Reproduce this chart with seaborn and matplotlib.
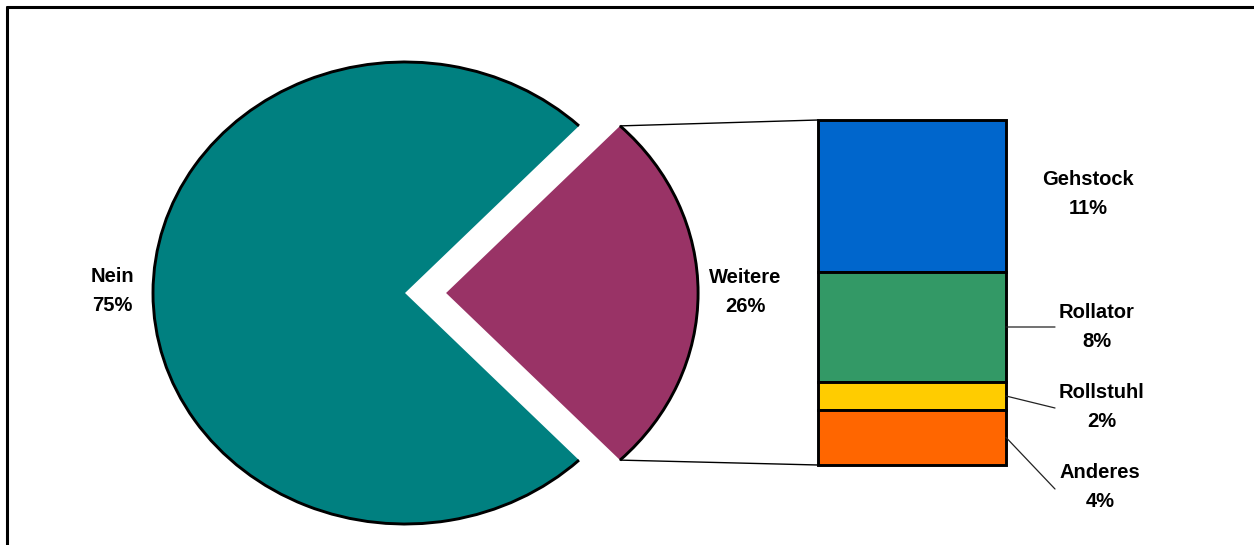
import matplotlib
matplotlib.use("Agg")
import matplotlib.pyplot as plt
from matplotlib.patches import Arc, ConnectionPatch
from matplotlib.lines import Line2D
import numpy as np
import seaborn as sns

# Main split: no walking aid vs. some other aid
pie_labels = ["Nein", "Weitere"]
pie_values = [75, 26]
pie_colors = ["#008080", "#993366"]

# Breakdown of "Weitere"
detail_labels = ["Gehstock", "Rollator", "Rollstuhl", "Anderes"]
detail_values = [11, 8, 2, 4]
detail_colors = ["#0066CC", "#339966", "#FFCC00", "#FF6600"]

sns.set_theme(style="white")
plt.rcParams["font.family"] = ["Liberation Sans", "DejaVu Sans"]

W, H = 1254, 545
fig = plt.figure(figsize=(W / 100, H / 100), dpi=100)
fig.patch.set_facecolor("white")


def fig_box(x0, y0, x1, y1):
    return [x0 / W, 1 - y1 / H, (x1 - x0) / W, (y1 - y0) / H]


def fig_pt(x, y):
    return (x / W, 1 - y / H)


TXT = dict(ha="center", va="center", fontsize=14.5, fontweight="bold",
           linespacing=1.72, color="black")

# ---- pie (slightly wider than tall) ----
cx, cy, rx, ry = 405, 293, 252, 231
px0, py0, px1, py1 = 100, 40, 760, 545
ax_pie = fig.add_axes(fig_box(px0, py0, px1, py1))
frac_other = pie_values[1] / sum(pie_values)
wedges, _ = ax_pie.pie(pie_values, colors=pie_colors,
                       startangle=180 * frac_other,
                       explode=[0, 0.163],
                       wedgeprops=dict(linewidth=0))
ax_pie.set_aspect("auto")
ax_pie.set_xlim((px0 - cx) / rx, (px1 - cx) / rx)
ax_pie.set_ylim((cy - py1) / ry, (cy - py0) / ry)
ax_pie.axis("off")

# outline only along the curved rim of each slice
for w in wedges:
    ax_pie.add_patch(Arc(w.center, 2 * w.r, 2 * w.r,
                         theta1=w.theta1, theta2=w.theta2,
                         color="black", lw=2.1, zorder=3))

# ---- stacked detail bar ----
total = sum(detail_values)
bottoms = total - np.cumsum(detail_values)
ax_bar = fig.add_axes(fig_box(818, 120, 1006, 465))
ax_bar.bar(np.zeros(len(detail_values)), detail_values, bottom=bottoms,
           width=1.0, color=detail_colors, edgecolor="black",
           linewidth=2.1, clip_on=False)
ax_bar.set_xlim(-0.5, 0.5)
ax_bar.set_ylim(0, total)
ax_bar.axis("off")

# connector lines from the exploded slice to the bar
w_other = wedges[1]
ox, oy = w_other.center
for ang, ybar in [(w_other.theta2, total), (w_other.theta1, 0)]:
    a = np.deg2rad(ang)
    con = ConnectionPatch(xyA=(ox + w_other.r * np.cos(a), oy + w_other.r * np.sin(a)),
                          coordsA=ax_pie.transData,
                          xyB=(-0.5, ybar), coordsB=ax_bar.transData,
                          color="black", lw=1.0)
    fig.add_artist(con)

# ---- labels ----
fig.text(*fig_pt(112, 291), f"{pie_labels[0]}\n{pie_values[0]}%", **TXT)
fig.text(*fig_pt(745, 292), f"{pie_labels[1]}\n{pie_values[1]}%", **TXT)

label_pos = {"Gehstock": (1088, 194), "Rollator": (1097, 327),
             "Rollstuhl": (1102, 407), "Anderes": (1100, 487)}
leader_end = {"Rollator": (1055, 327), "Rollstuhl": (1055, 408),
              "Anderes": (1055, 489)}
for lab, val, b in zip(detail_labels, detail_values, bottoms):
    fig.text(*fig_pt(*label_pos[lab]), f"{lab}\n{val}%", **TXT)
    if lab in leader_end:
        con = ConnectionPatch(xyA=(0.5, b + val / 2), coordsA=ax_bar.transData,
                              xyB=fig_pt(*leader_end[lab]), coordsB=fig.transFigure,
                              color="#222222", lw=0.9)
        fig.add_artist(con)

# ---- frame along top and left ----
fig.add_artist(Line2D([6.5 / W, 1.0], [1 - 6.5 / H] * 2,
                      transform=fig.transFigure, color="black", lw=2.2))
fig.add_artist(Line2D([6.5 / W] * 2, [1 - 6.5 / H, 0.0],
                      transform=fig.transFigure, color="black", lw=2.2))

fig.savefig("out.png", dpi=100, facecolor="white")
